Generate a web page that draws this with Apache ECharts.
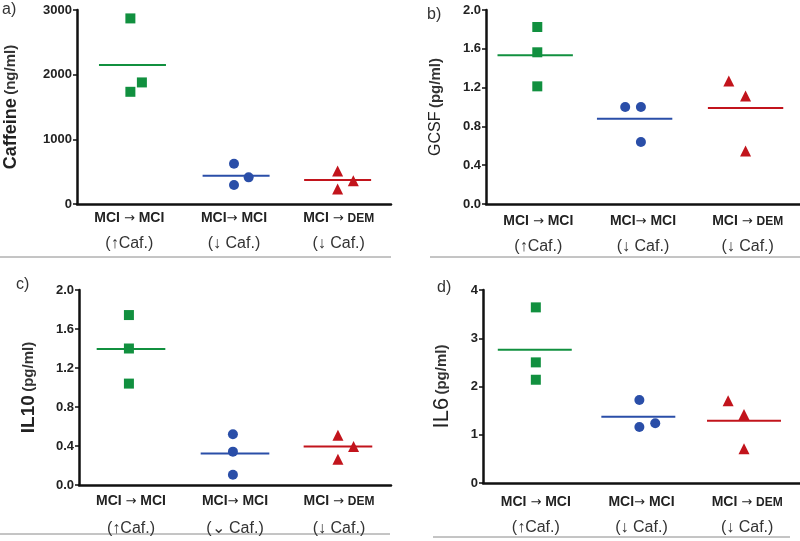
<!DOCTYPE html>
<html><head><meta charset="utf-8">
<script src="https://cdn.jsdelivr.net/npm/echarts@6/dist/echarts.min.js"></script>
<style>html,body{margin:0;padding:0;background:#fff}#c{width:800px;height:541px}</style>
</head><body><div id="c"></div>
<script>
// ---- data ----
const catTop = ['MCI → MCI', 'MCI→ MCI', 'MCI → DEM'];
const catBottom = ['(↑Caf.)', '(↓ Caf.)', '(↓ Caf.)'];
const catBottomC = ['(↑Caf.)', '(⌄ Caf.)', '(↓ Caf.)'];

const caffeineGreen = [2870, 1880, 1735];
const caffeineBlue = [623, 412, 294];
const caffeineRed = [510, 360, 232];
const caffeineMeans = [2150, 438, 371];
const caffeineJitter = [[0.01, 0.12, 0.01], [0, 0.14, 0], [-0.01, 0.14, -0.01]];
const caffeineMeanShift = [0.03, 0.02, -0.01];

const gcsfGreen = [1.825, 1.564, 1.213];
const gcsfBlue = [1.0, 1.0, 0.64];
const gcsfRed = [1.268, 1.113, 0.546];
const gcsfMeans = [1.533, 0.880, 0.990];
const gcsfJitter = [[-0.01, -0.01, -0.01], [-0.17, -0.02, -0.02], [-0.18, -0.02, -0.02]];
const gcsfMeanShift = [-0.03, -0.08, -0.02];

const il10Green = [1.743, 1.40, 1.04];
const il10Blue = [0.521, 0.342, 0.106];
const il10Red = [0.51, 0.394, 0.264];
const il10Means = [1.394, 0.322, 0.394];
const il10Jitter = [[-0.02, -0.02, -0.02], [-0.02, -0.02, -0.02], [-0.01, 0.14, -0.01]];
const il10MeanShift = [0, 0, -0.01];

const il6Green = [3.64, 2.50, 2.14];
const il6Blue = [1.72, 1.24, 1.16];
const il6Red = [1.705, 1.42, 0.71];
const il6Means = [2.76, 1.374, 1.29];
const il6Jitter = [[0, 0, 0], [-0.02, 0.13, -0.02], [-0.18, -0.03, -0.03]];
const il6MeanShift = [-0.01, -0.03, -0.03];

const yTicksA = {min: 0, max: 3000, interval: 1000};
const yTicksB = {min: 0, max: 2.0, interval: 0.4};
const yTicksC = {min: 0, max: 2.0, interval: 0.4};
const yTicksD = {min: 0, max: 4, interval: 1};

// ---- styling ----
const colors = ['#11903f', '#2a4ea8', '#c2141c'];
const symbols = ['rect', 'circle', 'triangle'];
const symSizes = [10, 10, 11];
const FF = 'Arial, Liberation Sans';

const panels = [
  {grid: {left: 77, top: 10, width: 314, height: 194}, groups: [caffeineGreen, caffeineBlue, caffeineRed], means: caffeineMeans, jitter: caffeineJitter, shift: caffeineMeanShift, half: 0.32, y: yTicksA, dec: 0, bottom: catBottom,
   big: 'Caffeine', bigWeight: 'bold', bigSize: 18, nameGap: 57, margin: 2, lh: 25},
  {grid: {left: 486, top: 10, width: 314, height: 194}, groups: [gcsfGreen, gcsfBlue, gcsfRed], means: gcsfMeans, jitter: gcsfJitter, shift: gcsfMeanShift, half: 0.36, y: yTicksB, dec: 1, bottom: catBottom,
   big: 'GCSF', bigWeight: 'normal', bigSize: 16, nameGap: 42, margin: 5, lh: 25},
  {grid: {left: 79, top: 290, width: 312, height: 195}, groups: [il10Green, il10Blue, il10Red], means: il10Means, jitter: il10Jitter, shift: il10MeanShift, half: 0.33, y: yTicksC, dec: 1, bottom: catBottomC,
   big: 'IL10', bigWeight: 'bold', bigSize: 19, nameGap: 41, margin: 3, lh: 27},
  {grid: {left: 483, top: 290, width: 317, height: 193}, groups: [il6Green, il6Blue, il6Red], means: il6Means, jitter: il6Jitter, shift: il6MeanShift, half: 0.35, y: yTicksD, dec: 0, bottom: catBottom,
   big: 'IL6', bigWeight: 'normal', bigSize: 22, nameGap: 30, margin: 7, lh: 25}
];
const unitText = ['(ng/ml)', '(pg/ml)', '(pg/ml)', '(pg/ml)'];

const grid = [], xAxis = [], yAxis = [], series = [];
panels.forEach((p, i) => {
  grid.push(Object.assign({containLabel: false}, p.grid));
  xAxis.push({
    type: 'category', gridIndex: i, data: catTop.map((t, k) => ({value: t + '|' + p.bottom[k]})),
    boundaryGap: true,
    axisLine: {lineStyle: {color: '#111', width: 2.5}},
    axisTick: {show: false},
    axisLabel: {
      interval: 0, margin: p.margin,
      formatter: v => {
        const s = v.split('|');
        const top = s[0].replace('→', '}{a|→}{t|').replace('DEM', '}{d|DEM');
        return '{t|' + top + '}\n{b|' + s[1] + '}';
      },
      rich: {
        t: {fontFamily: FF, fontWeight: 'bold', fontSize: 14, color: '#222', lineHeight: p.lh},
        a: {fontFamily: 'DejaVu Sans', fontSize: 13, color: '#222', lineHeight: p.lh},
        d: {fontFamily: FF, fontWeight: 'bold', fontSize: 12, color: '#222', lineHeight: p.lh},
        b: {fontFamily: FF, fontSize: 16, color: '#333', lineHeight: p.lh}
      }
    }
  });
  xAxis.push({type: 'value', gridIndex: i, min: 0.5, max: 3.5, show: false});
  yAxis.push({
    type: 'value', gridIndex: i, min: p.y.min, max: p.y.max, interval: p.y.interval,
    axisLine: {show: true, lineStyle: {color: '#111', width: 2.5}},
    axisTick: {show: true, length: 4, lineStyle: {color: '#111', width: 1.5}},
    splitLine: {show: false},
    axisLabel: {fontFamily: FF, fontWeight: 'bold', fontSize: 13, color: '#222', margin: 5,
      formatter: v => v.toFixed(p.dec)},
    name: '{big|' + p.big + '} {small|' + unitText[i] + '}', nameLocation: 'middle', nameGap: p.nameGap, nameRotate: 90,
    nameTextStyle: {
      rich: {
        big: {fontFamily: FF, fontWeight: p.bigWeight, fontSize: p.bigSize, color: '#222'},
        small: {fontFamily: FF, fontWeight: 'bold', fontSize: 15, color: '#333'}
      }
    }
  });
  p.groups.forEach((vals, g) => {
    series.push({
      type: 'scatter', xAxisIndex: i * 2 + 1, yAxisIndex: i,
      symbol: symbols[g], symbolSize: symSizes[g],
      itemStyle: {color: colors[g], opacity: 1},
      data: vals.map((v, k) => [g + 1 + p.jitter[g][k], v]),
      z: 3
    });
    const cx = g + 1 + p.shift[g];
    series.push({
      type: 'line', xAxisIndex: i * 2 + 1, yAxisIndex: i,
      symbol: 'none', lineStyle: {color: colors[g], width: 2},
      data: [[cx - p.half, p.means[g]], [cx + p.half, p.means[g]]],
      z: 2
    });
  });
});

const labelStyle = {fontFamily: FF, fontSize: 16, fill: '#333'};
const graphic = [
  {type: 'text', left: 2, top: 2, style: Object.assign({text: 'a)'}, labelStyle)},
  {type: 'text', left: 427, top: 7, style: Object.assign({text: 'b)'}, labelStyle)},
  {type: 'text', left: 16, top: 277, style: Object.assign({text: 'c)'}, labelStyle)},
  {type: 'text', left: 437, top: 280, style: Object.assign({text: 'd)'}, labelStyle)},
  {type: 'line', shape: {x1: 0, y1: 257, x2: 391, y2: 257}, style: {stroke: '#8a8a8a', lineWidth: 1}},
  {type: 'line', shape: {x1: 430, y1: 257, x2: 800, y2: 257}, style: {stroke: '#8a8a8a', lineWidth: 1}},
  {type: 'line', shape: {x1: 0, y1: 534, x2: 390, y2: 534}, style: {stroke: '#8a8a8a', lineWidth: 1}},
  {type: 'line', shape: {x1: 433, y1: 537, x2: 790, y2: 537}, style: {stroke: '#8a8a8a', lineWidth: 1}}
];

const chart = echarts.init(document.getElementById('c'), null, {renderer: 'canvas'});
chart.setOption({animation: false, backgroundColor: '#fff', grid, xAxis, yAxis, series, graphic});
</script>
</body></html>
